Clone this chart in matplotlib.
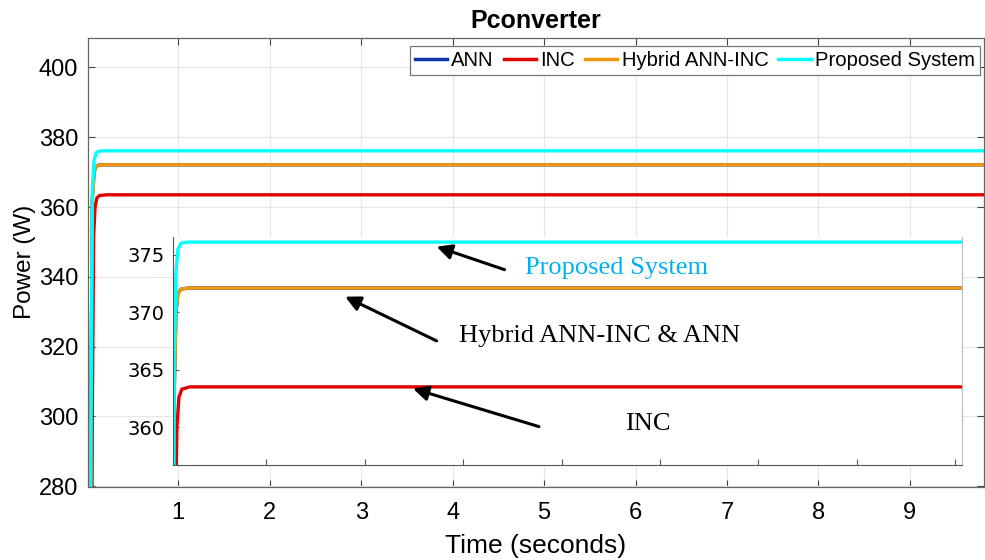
import matplotlib
matplotlib.use("Agg")
import matplotlib.pyplot as plt

# ---- data ----
ann_t = [0.0, 0.03, 0.045, 0.06, 0.08, 0.10, 0.13, 0.2, 9.9]
ann_p = [0, 150, 300, 362, 370, 371.6, 372.0, 372.1, 372.1]
hyb_t = [0.0, 0.03, 0.045, 0.06, 0.08, 0.10, 0.13, 0.2, 9.9]
hyb_p = [0, 150, 300, 362, 370, 371.6, 372.0, 372.1, 372.1]
inc_t = [0.0, 0.04, 0.06, 0.075, 0.09, 0.11, 0.14, 0.22, 9.9]
inc_p = [0, 150, 300, 352, 360, 362.6, 363.3, 363.5, 363.5]
prop_t = [0.0, 0.03, 0.045, 0.06, 0.08, 0.10, 0.13, 0.2, 9.9]
prop_p = [0, 150, 300, 365, 373.5, 375.5, 376.0, 376.1, 376.1]

series_names = ["ANN", "INC", "Hybrid ANN-INC", "Proposed System"]
series_colors = ["#0a36a8", "#e00000", "#f0960f", "#00ffff"]

main_xticks = [1, 2, 3, 4, 5, 6, 7, 8, 9]
main_yticks = [280, 300, 320, 340, 360, 380, 400]
inset_xticks = [1, 2, 3, 4, 5, 6, 7, 8]
inset_yticks = [360, 365, 370, 375]

plt.rcParams['font.family'] = ['Liberation Sans', 'DejaVu Sans']

fig = plt.figure(figsize=(9.85, 5.6), dpi=100)
W, H = 985, 560

def fig_rect(x0, y0, x1, y1):
    return [x0 / W, 1 - y1 / H, (x1 - x0) / W, (y1 - y0) / H]

ax = fig.add_axes(fig_rect(88, 37.7, 984, 487))
data = [(ann_t, ann_p), (inc_t, inc_p), (hyb_t, hyb_p), (prop_t, prop_p)]
for (t, p), name, c in zip(data, series_names, series_colors):
    ax.plot(t, p, color=c, lw=2.4, label=name)

ax.set_xlim(0.013, 9.81)
ax.set_ylim(279.8, 408.5)
ax.set_xticks(main_xticks)
ax.set_yticks(main_yticks)
ax.tick_params(direction='in', top=True, right=True, length=5, width=0.8,
               color='#444444', labelsize=17)
ax.tick_params(axis='x', pad=11)
ax.tick_params(axis='y', pad=7)
ax.grid(True, color='#e6e6e6', lw=0.8)
for s in ax.spines.values():
    s.set_color('#666666')
    s.set_linewidth(0.9)
ax.set_title("Pconverter", fontsize=18, fontweight='bold', pad=7)
ax.set_xlabel("Time (seconds)", fontsize=19, labelpad=7)
ax.set_ylabel("Power (W)", fontsize=17.5, labelpad=2)

leg = ax.legend(loc='upper right', bbox_to_anchor=(0.9955, 0.9824), borderaxespad=0,
                ncol=4, fontsize=14.6, handlelength=1.6, handletextpad=0.2,
                columnspacing=0.5, borderpad=0.25, fancybox=False, framealpha=1)
leg.get_frame().set_edgecolor('#777777')
leg.get_frame().set_linewidth(0.9)
for line in leg.get_lines():
    line.set_linewidth(2.5)

# ---- inset ----
axi = fig.add_axes(fig_rect(173, 236.7, 962, 465))
for (t, p), c in zip(data, series_colors):
    axi.plot(t, p, color=c, lw=2.4)
axi.set_xlim(0.05, 8.07)
axi.set_ylim(356.7, 376.57)
axi.set_xticks(inset_xticks)
axi.set_xticklabels([])
axi.set_yticks(inset_yticks)
axi.tick_params(direction='in', length=4, width=0.8, color='#555555',
                labelsize=14, pad=6)
for lab in axi.get_yticklabels():
    lab.set_family(['DejaVu Sans'])
axi.spines['left'].set_color('#555555')
axi.spines['bottom'].set_color('#555555')
axi.spines['top'].set_visible(False)
axi.spines['right'].set_color('#bbbbbb')

serif = ['Liberation Serif', 'DejaVu Serif']
arrow_kw = dict(arrowstyle='-|>,head_length=0.9,head_width=0.45', color='black', lw=2.2,
                shrinkA=0, shrinkB=0)
axi.annotate('', xy=(2.73, 375.7), xytext=(3.42, 373.7), arrowprops=arrow_kw)
axi.text(4.56, 373.85, "Proposed System", family=serif, fontsize=19,
         color='#00b0f0', ha='center', va='center')
axi.annotate('', xy=(1.80, 371.35), xytext=(2.73, 367.5), arrowprops=arrow_kw)
axi.text(4.39, 367.9, "Hybrid ANN-INC & ANN", family=serif, fontsize=19,
         color='black', ha='center', va='center')
axi.annotate('', xy=(2.49, 363.35), xytext=(3.77, 360.04), arrowprops=arrow_kw)
axi.text(4.88, 360.3, "INC", family=serif, fontsize=19,
         color='black', ha='center', va='center')

fig.savefig("out.png", dpi=100)
